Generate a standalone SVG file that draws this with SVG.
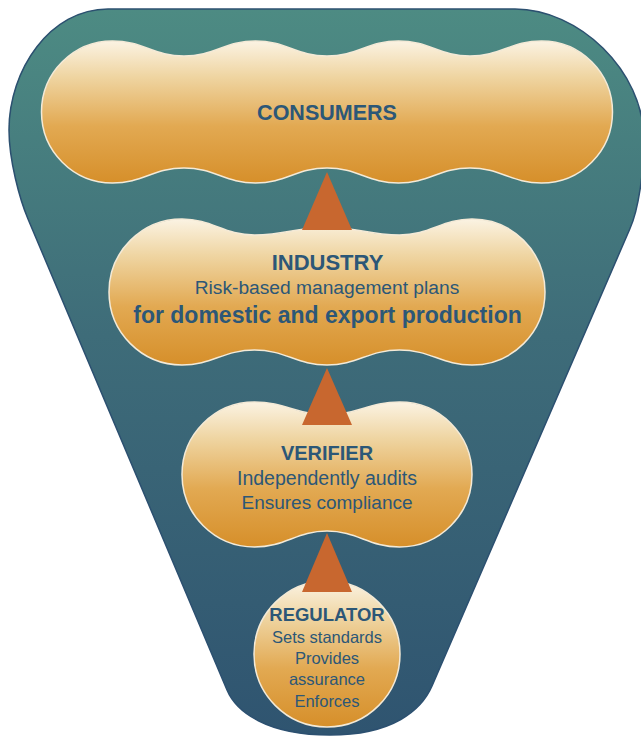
<svg xmlns="http://www.w3.org/2000/svg" width="641" height="736" viewBox="0 0 641 736">
  <defs>
    <linearGradient id="funnelFill" gradientUnits="userSpaceOnUse" x1="0" y1="9" x2="0" y2="735">
      <stop offset="0" stop-color="#4d8b83"/>
      <stop offset="0.45" stop-color="#3e6c79"/>
      <stop offset="1" stop-color="#2f5470"/>
    </linearGradient>
    <linearGradient id="cloudFill" x1="0" y1="0" x2="0" y2="1">
      <stop offset="0" stop-color="#fbf3e3"/>
      <stop offset="0.25" stop-color="#efd5a2"/>
      <stop offset="0.6" stop-color="#e2a952"/>
      <stop offset="1" stop-color="#d68f2a"/>
    </linearGradient>
    <style>
      .funnel { fill: url(#funnelFill); stroke: #2c5070; stroke-width: 1.5; }
      .cloud { fill: url(#cloudFill); stroke: #f4ead7; stroke-width: 1.5; }
      .arrow { fill: #c8672f; }
      text { font-family: "Liberation Sans", Arial, sans-serif; fill: #2c5777; text-anchor: middle; }
      .title { font-weight: bold; }
    </style>
  </defs>

  <!-- funnel background -->
  <g id="funnel">
    <path class="funnel" d="M108,9 L515,9 C578,9 644,70 644,140 C644,170 638.8,209 629.8,229 L432,686 C421.6,710 393,735 330,735 C267,735 236.3,712 227,690 L28,219 C19.6,199 9,160 9,130 C9,70 50,9 108,9 Z"/>
  </g>

  <g id="consumers">
    <path class="cloud" d="M112.5,41 C142.5,41 154,56 184,56 C214,56 225.5,41 255.5,41 C285.5,41 297,56 327,56 C357,56 368.5,41 398.5,41 C428.5,41 440,56 470,56 C500,56 511.5,41 541.5,41 A71,71 0 0 1 541.5,183 C511.5,183 500,168 470,168 C440,168 428.5,183 398.5,183 C368.5,183 357,168 327,168 C297,168 285.5,183 255.5,183 C225.5,183 214,168 184,168 C154,168 142.5,183 112.5,183 A71,71 0 0 1 112.5,41 Z"/>
    <text class="title" x="327" y="120" font-size="21.5">CONSUMERS</text>
  </g>

  <g id="industry">
    <path class="cloud" d="M182,219 C212,219 224,235 254.5,235 C285,235 300,227 327,227 C354,227 369,235 399.5,235 C430,235 442,219 472,219 A73,73 0 0 1 472,365 C442,365 430,350 399.5,350 C369,350 357,365 327,365 C297,365 285,350 254.5,350 C224,350 212,365 182,365 A73,73 0 0 1 182,219 Z"/>
    <text class="title" x="327.5" y="270" font-size="22">INDUSTRY</text>
    <text x="327" y="294" font-size="19.2">Risk-based management plans</text>
    <text class="title" x="327.5" y="323" font-size="23">for domestic and export production</text>
  </g>

  <g id="verifier">
    <path class="cloud" d="M254.5,402 C285,402 297,415 327,415 C357,415 369,402 399.5,402 A72.5,72.5 0 0 1 399.5,547 C369,547 357,531 327,531 C297,531 285,547 254.5,547 A72.5,72.5 0 0 1 254.5,402 Z"/>
    <text class="title" x="327" y="460" font-size="20">VERIFIER</text>
    <text x="327" y="485" font-size="19.5">Independently audits</text>
    <text x="327" y="509" font-size="19">Ensures compliance</text>
  </g>

  <g id="regulator">
    <circle class="cloud" cx="327" cy="654" r="73"/>
    <text class="title" x="327" y="621" font-size="18.5">REGULATOR</text>
    <text x="327" y="643" font-size="16.5">Sets standards</text>
    <text x="327" y="664" font-size="16.5">Provides</text>
    <text x="327" y="685" font-size="16.5">assurance</text>
    <text x="327" y="707" font-size="16.5">Enforces</text>
  </g>

  <!-- upward arrows between the tiers -->
  <g id="connectors">
    <polygon class="arrow" points="327,172 352,230 302,230"/>
    <polygon class="arrow" points="327,368 352,425 302,425"/>
    <polygon class="arrow" points="327,533 352,592 302,592"/>
  </g>
</svg>
